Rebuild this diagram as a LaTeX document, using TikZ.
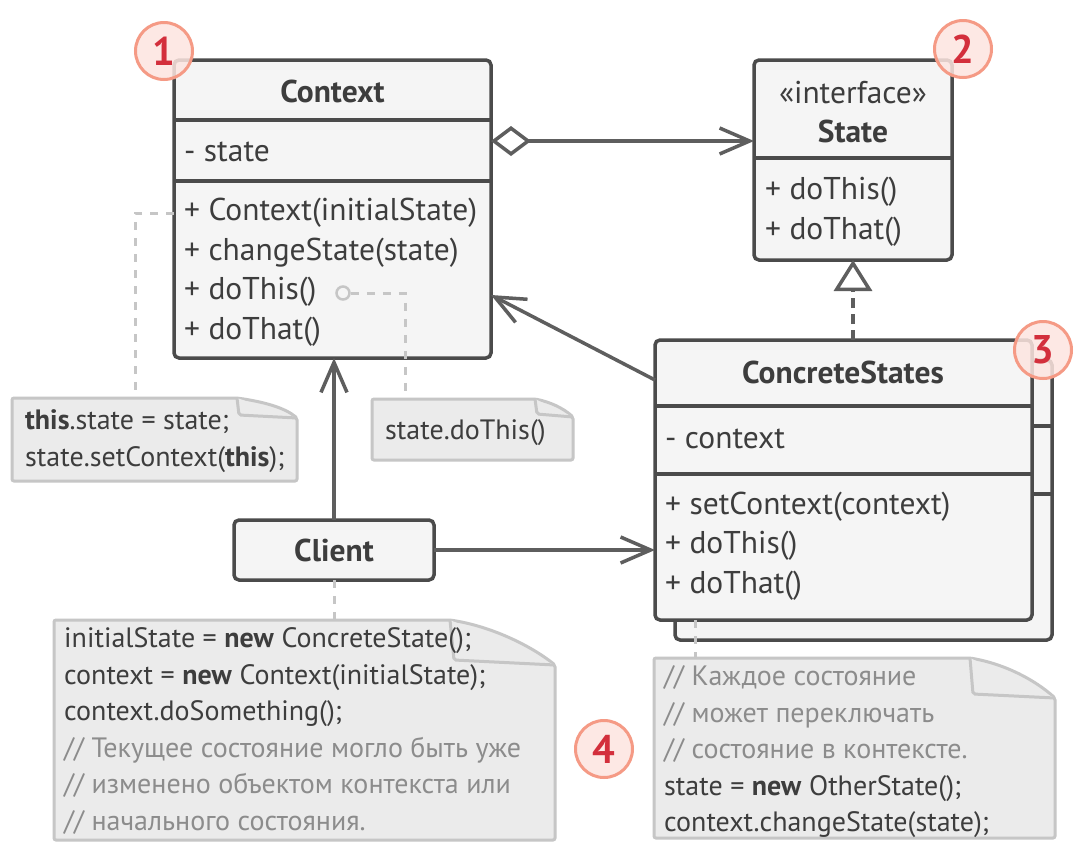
\documentclass[tikz,border=0pt]{standalone}
\usepackage{fontspec}
\setmainfont{PT Sans}
\usetikzlibrary{arrows.meta,positioning}

\definecolor{boxline}{HTML}{4B4B4B}
\definecolor{boxfill}{HTML}{F5F5F5}
\definecolor{linkline}{HTML}{5E5E5E}
\definecolor{notefill}{HTML}{EBEBEB}
\definecolor{noteline}{HTML}{C6C6C6}
\definecolor{textgray}{HTML}{3D3D3D}
\definecolor{commentgray}{HTML}{8C8C8C}
\definecolor{badgefill}{HTML}{FDE5E0}
\definecolor{badgeline}{HTML}{F59A85}
\definecolor{badgetext}{HTML}{D32F3C}

\newcommand{\cmnt}[1]{\textcolor{commentgray}{#1}}

\tikzset{
  classbox/.style={draw=boxline, fill=boxfill, line width=3.5pt, rounded corners=5pt},
  divider/.style={draw=boxline, line width=3.5pt},
  classname/.style={font=\fontsize{31.5}{36}\selectfont\bfseries, text=textgray, inner sep=0pt},
  stereo/.style={font=\fontsize{31.5}{36}\selectfont, text=textgray, inner sep=0pt},
  members/.style={font=\fontsize{31.5}{39.5}\selectfont, text=textgray, align=left, inner sep=0pt, anchor=west},
  notebox/.style={draw=noteline, fill=notefill, line width=3pt, rounded corners=2pt},
  notetext/.style={font=\fontsize{28}{36.5}\selectfont, text=textgray, align=left, inner sep=0pt, anchor=west},
  notelink/.style={draw=noteline, line width=3pt, dash pattern=on 8pt off 8pt},
  link/.style={draw=linkline, line width=3.5pt},
  openhead/.style={-{Straight Barb[length=30pt,width=26pt]}},
  badge/.style={circle, draw=badgeline, fill=badgefill, fill opacity=0.85, text opacity=1, line width=3pt, minimum size=57pt, inner sep=0pt, font=\fontsize{40}{40}\selectfont\bfseries, text=badgetext},
}

\begin{document}
\begin{tikzpicture}[x=1pt,y=-1pt]
  \useasboundingbox[fill=white] (0,0) rectangle (1080,860);

  % classes
  \draw[classbox] (174,60) rectangle (491,358);
  \draw[divider] (174,120) -- (491,120) (174,181) -- (491,181);
  \node[classname] (context) at (332.5,91) {Context};
  \node[members] (contextattr) at (184,152) {- state};
  \node[members] (contextops) at (184,272) {+ Context(initialState)\\+ changeState(state)\\+ doThis()\\+ doThat()};
  \coordinate (contextright) at (491,141);
  \coordinate (contextbottom) at (334,358);
  \coordinate (contextside) at (491,295);

  \draw[classbox] (754,60) rectangle (952,260);
  \draw[divider] (754,158) -- (952,158);
  \node[stereo] (interface) at (853,93) {«interface»};
  \node[classname] (state) at (853,131) {State};
  \node[members, font=\fontsize{31.5}{40}\selectfont] (stateops) at (765,212) {+ doThis()\\+ doThat()};
  \coordinate (stateleft) at (754,141);
  \coordinate (statebottom) at (853,260);

  \draw[classbox] (675,360) rectangle (1052,640);
  \draw[divider] (675,426) -- (1052,426) (675,494) -- (1052,494);
  \draw[classbox] (655,340) rectangle (1032,620);
  \draw[divider] (655,406) -- (1032,406) (655,474) -- (1032,474);
  \node[classname] (concrete) at (843,372) {ConcreteStates};
  \node[members] (concreteattr) at (665,439) {- context};
  \node[members] (concreteops) at (665,546) {+ setContext(context)\\+ doThis()\\+ doThat()};
  \coordinate (concretetop) at (853,340);
  \coordinate (concreteleft) at (655,380);
  \coordinate (concreteclient) at (655,550);
  \coordinate (concretebottom) at (695,640);

  \draw[classbox] (234,520) rectangle (434,580);
  \node[classname] (client) at (334,550) {Client};
  \coordinate (clienttop) at (334,520);
  \coordinate (clientright) at (434,550);
  \coordinate (clientbottom) at (334,580);

  % relations
  \draw[link, {Diamond[length=40pt,width=30pt,fill=white]}-{Straight Barb[length=30pt,width=26pt]}] (contextright) -- (stateleft);
  \draw[link, dash pattern=on 10pt off 6pt, -{Triangle[open,length=31pt,width=38pt]}] (concretetop) -- (statebottom);
  \draw[link, openhead] (concreteleft) -- (contextside);
  \draw[link, openhead] (clienttop) -- (contextbottom);
  \draw[link, openhead] (clientright) -- (concreteclient);

  % notes
  \draw[notebox] (12,398) -- (237,398) .. controls (265,402) and (285,408) .. (297,418) -- (297,481) -- (12,481) -- cycle;
  \draw[notebox] (237,398) -- (239,415) -- (297,418);
  \node[notetext] (noteinit) at (25,441) {\textbf{this}.state = state;\\state.setContext(\textbf{this});};
  \coordinate (noteinittop) at (135,398);

  \draw[notebox] (372,399) -- (535,399) .. controls (550,402) and (563,408) .. (573,417) -- (573,460) -- (372,460) -- cycle;
  \draw[notebox] (535,399) -- (537,414) -- (573,417);
  \node[notetext] (notedothis) at (385,433) {state.doThis()};
  \coordinate (notedothistop) at (405,399);

  \draw[notebox] (54,620) -- (450,620) .. controls (490,626) and (530,645) .. (555,665) -- (555,840) -- (54,840) -- cycle;
  \draw[notebox] (450,620) -- (454,660) -- (555,665);
  \node[notetext] (noteclient) at (64,731) {initialState = \textbf{new} ConcreteState();\\context = \textbf{new} Context(initialState);\\context.doSomething();\\\cmnt{// Текущее состояние могло быть уже}\\\cmnt{// изменено объектом контекста или}\\\cmnt{// начального состояния.}};
  \coordinate (noteclienttop) at (334,620);

  \draw[notebox] (654,658) -- (970,658) .. controls (1005,664) and (1035,680) .. (1055,698) -- (1055,838) -- (654,838) -- cycle;
  \draw[notebox] (970,658) -- (973,694) -- (1055,698);
  \node[notetext] (notestate) at (664,752) {\cmnt{// Каждое состояние}\\\cmnt{// может переключать}\\\cmnt{// состояние в контексте.}\\state = \textbf{new} OtherState();\\context.changeState(state);};
  \coordinate (notestatetop) at (695,658);

  \node[circle, draw=noteline, fill=boxfill, line width=2.5pt, minimum size=13pt, inner sep=0pt] (dothisdot) at (343,293) {};
  \coordinate (contextctor) at (174,213);

  \draw[notelink] (contextctor) -| (noteinittop);
  \draw[notelink] (dothisdot) -| (notedothistop);
  \draw[notelink] (clientbottom) -- (noteclienttop);
  \draw[notelink] (695,620) -- (notestatetop);

  % badges
  \node[badge] (badgeone) at (164,51) {1};
  \node[badge] (badgetwo) at (963,49) {2};
  \node[badge] (badgethree) at (1043,350) {3};
  \node[badge] (badgefour) at (604,749) {4};
\end{tikzpicture}
\end{document}
